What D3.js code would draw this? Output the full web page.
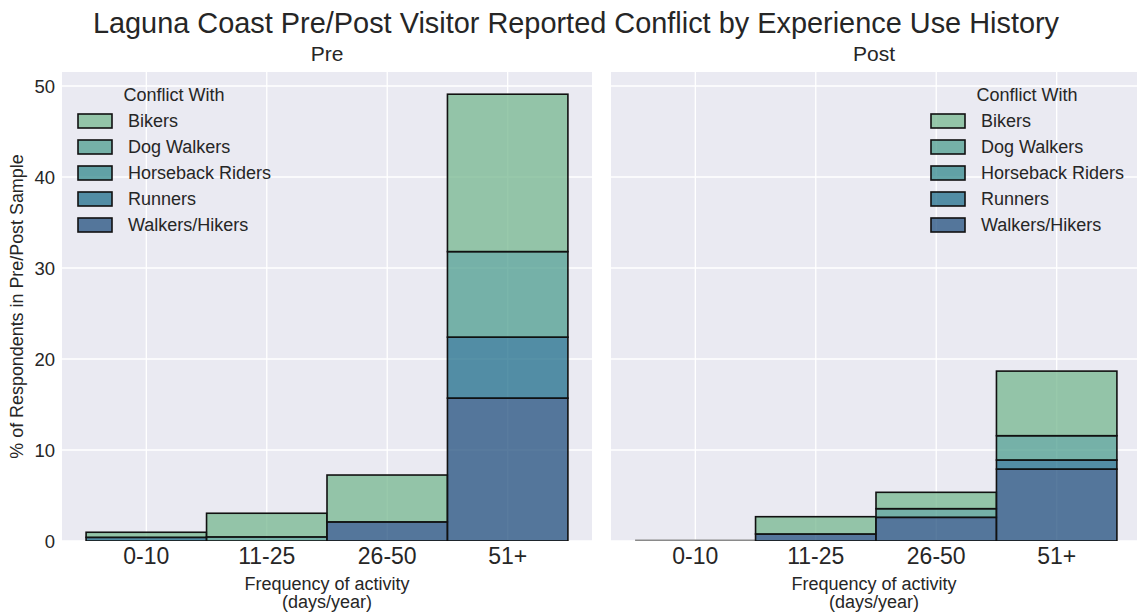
<!DOCTYPE html>
<html>
<head>
<meta charset="utf-8">
<script src="https://cdn.jsdelivr.net/npm/d3@7"></script>
<style>
  body { margin: 0; background: #fff; }
  svg { display: block; font-family: "Liberation Sans", Arial, sans-serif; }
</style>
</head>
<body>
<svg id="chart" width="1137" height="616"></svg>
<script>
// ---- data ----
const categories = ["0-10", "11-25", "26-50", "51+"];
const seriesNames = ["Bikers", "Dog Walkers", "Horseback Riders", "Runners", "Walkers/Hikers"];
const seriesColors = ["#76b78f", "#4d9d8f", "#33888c", "#1f6d8b", "#214f7e"];
const yTicks = [0, 10, 20, 30, 40, 50];
const panelTitles = ["Pre", "Post"];

const preBikers = [0.56, 2.6, 5.15, 17.3];
const preDogWalkers = [0, 0.45, 0, 9.4];
const preHorseback = [0, 0, 0, 0];
const preRunners = [0.4, 0, 0, 6.7];
const preWalkers = [0, 0, 2.1, 15.7];

const postBikers = [0, 1.9, 1.8, 7.1];
const postDogWalkers = [0, 0, 0.95, 2.67];
const postHorseback = [0, 0, 0, 0];
const postRunners = [0, 0, 0, 1.0];
const postWalkers = [0, 0.77, 2.6, 7.9];

const panels = [
  { title: panelTitles[0], series: [preBikers, preDogWalkers, preHorseback, preRunners, preWalkers], legend: "left" },
  { title: panelTitles[1], series: [postBikers, postDogWalkers, postHorseback, postRunners, postWalkers], legend: "right" }
];

// ---- layout ----
const svg = d3.select("#chart");
const plotTop = 72, plotBottom = 541;
const panelX = [[62, 592], [611, 1141]];
const y = d3.scaleLinear().domain([0, 51.54]).range([plotBottom, plotTop]);
const textColor = "#262626";

svg.append("text")
  .attr("x", 576).attr("y", 33)
  .attr("text-anchor", "middle")
  .attr("font-size", 28.9)
  .attr("fill", textColor)
  .text("Laguna Coast Pre/Post Visitor Reported Conflict by Experience Use History");

panels.forEach((p, pi) => {
  const [x0, x1] = panelX[pi];
  const x = d3.scaleLinear().domain([-0.7, 3.7]).range([x0, x1]);
  const g = svg.append("g");
  const clipId = "clip" + pi;
  svg.append("clipPath").attr("id", clipId)
    .append("rect").attr("x", x0).attr("y", plotTop).attr("width", x1 - x0).attr("height", plotBottom - plotTop);

  g.append("rect").attr("x", x0).attr("y", plotTop).attr("width", x1 - x0).attr("height", plotBottom - plotTop).attr("fill", "#eaeaf2");

  const body = g.append("g").attr("clip-path", `url(#${clipId})`);
  // grid
  body.selectAll(".hg").data(yTicks).join("line")
    .attr("x1", x0).attr("x2", x1).attr("y1", d => y(d)).attr("y2", d => y(d))
    .attr("stroke", "#fff").attr("stroke-width", 1.3);
  body.selectAll(".vg").data(categories).join("line")
    .attr("x1", (d, i) => x(i)).attr("x2", (d, i) => x(i)).attr("y1", plotTop).attr("y2", plotBottom)
    .attr("stroke", "#fff").attr("stroke-width", 1.3);

  // stacked bars: bottom = last series
  const order = [4, 3, 2, 1, 0];
  categories.forEach((c, ci) => {
    let base = 0;
    const total = d3.sum(p.series, s => s[ci]);
    if (total === 0) {
      body.append("line")
        .attr("x1", x(ci - 0.5)).attr("x2", x(ci + 0.5))
        .attr("y1", y(0) - 0.5).attr("y2", y(0) - 0.5)
        .attr("stroke", "#8a8a8a").attr("stroke-width", 2);
      return;
    }
    order.forEach(si => {
      const v = p.series[si][ci];
      if (v > 0) {
        body.append("rect")
          .attr("x", x(ci - 0.5)).attr("width", x(ci + 0.5) - x(ci - 0.5))
          .attr("y", y(base + v)).attr("height", y(base) - y(base + v))
          .attr("fill", seriesColors[si]).attr("fill-opacity", 0.75)
          .attr("stroke", "#111").attr("stroke-width", 1.6);
      }
      base += v;
    });
  });

  // x tick labels
  g.selectAll(".xt").data(categories).join("text")
    .attr("x", (d, i) => x(i)).attr("y", 564)
    .attr("text-anchor", "middle").attr("font-size", 23).attr("fill", textColor)
    .text(d => d);
  // x label
  const cx = pi === 0 ? 327 : 874;
  const xl = g.append("text").attr("text-anchor", "middle").attr("font-size", 18).attr("fill", textColor);
  xl.append("tspan").attr("x", cx).attr("y", 590).text("Frequency of activity");
  xl.append("tspan").attr("x", cx).attr("y", 608).text("(days/year)");

  // panel title
  g.append("text").attr("x", cx).attr("y", 61)
    .attr("text-anchor", "middle").attr("font-size", 21).attr("fill", textColor).text(p.title);

  // legend
  const lx = p.legend === "left" ? 78 : 931;
  const leg = g.append("g");
  leg.append("text").attr("x", lx + 96).attr("y", 101).attr("text-anchor", "middle")
    .attr("font-size", 18).attr("fill", textColor).text("Conflict With");
  seriesNames.forEach((n, i) => {
    const ry = 114 + i * 26;
    leg.append("rect").attr("x", lx).attr("y", ry).attr("width", 34).attr("height", 14)
      .attr("fill", seriesColors[i]).attr("fill-opacity", 0.75)
      .attr("stroke", "#111").attr("stroke-width", 1.6);
    leg.append("text").attr("x", lx + 50).attr("y", ry + 13)
      .attr("font-size", 18).attr("fill", textColor).text(n);
  });
});

// y ticks (left panel only)
svg.selectAll(".yt").data(yTicks).join("text")
  .attr("x", 55).attr("y", d => y(d) + 6.5)
  .attr("text-anchor", "end").attr("font-size", 18.5).attr("fill", textColor)
  .text(d => d);

svg.append("text")
  .attr("transform", `translate(23, ${(plotTop + plotBottom) / 2}) rotate(-90)`)
  .attr("text-anchor", "middle").attr("font-size", 17.9).attr("fill", textColor)
  .text("% of Respondents in Pre/Post Sample");
</script>
</body>
</html>
